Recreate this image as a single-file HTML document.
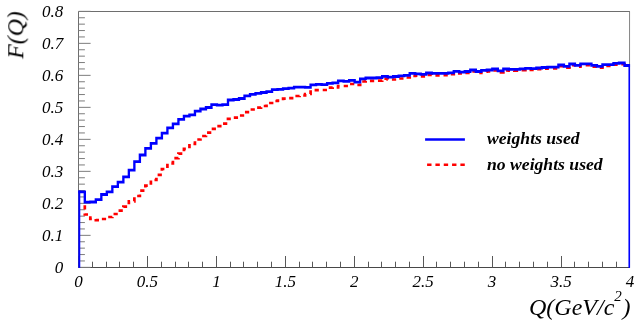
<!DOCTYPE html>
<html><head><meta charset="utf-8">
<style>
html,body{margin:0;padding:0;background:#fff;}
body{width:639px;height:327px;overflow:hidden;}
svg{display:block;}
text{font-family:"Liberation Serif",serif;font-style:italic;fill:#000;}
.lab{font-size:17px;}
.ttl{font-size:24px;}
.leg{font-size:17.65px;font-weight:bold;}
</style></head><body>
<svg width="639" height="327" viewBox="0 0 639 327">
<rect x="0" y="0" width="639" height="327" fill="#fff"/>
<defs><clipPath id="rc"><rect x="81.0" y="0" width="546.0" height="327"/></clipPath><clipPath id="bc"><rect x="78.1" y="0" width="552" height="327"/></clipPath></defs>
<path d="M78.5 267.5 V11.5 H630.0" fill="none" stroke="#6e6e6e" stroke-width="1"/>
<path d="M629.55 11.5 V267.5" fill="none" stroke="#858585" stroke-width="1"/>
<path d="M78.5 267.5 H630.0" fill="none" stroke="#484848" stroke-width="1"/>
<path d="M78.50 267.50 V256.00 M92.50 267.50 V261.70 M106.50 267.50 V261.70 M119.50 267.50 V261.70 M133.50 267.50 V261.70 M147.50 267.50 V256.00 M161.50 267.50 V261.70 M175.50 267.50 V261.70 M188.50 267.50 V261.70 M202.50 267.50 V261.70 M216.50 267.50 V256.00 M230.50 267.50 V261.70 M243.50 267.50 V261.70 M257.50 267.50 V261.70 M271.50 267.50 V261.70 M285.50 267.50 V256.00 M299.50 267.50 V261.70 M312.50 267.50 V261.70 M326.50 267.50 V261.70 M340.50 267.50 V261.70 M354.50 267.50 V256.00 M368.50 267.50 V261.70 M381.50 267.50 V261.70 M395.50 267.50 V261.70 M409.50 267.50 V261.70 M423.50 267.50 V256.00 M436.50 267.50 V261.70 M450.50 267.50 V261.70 M464.50 267.50 V261.70 M478.50 267.50 V261.70 M492.50 267.50 V256.00 M505.50 267.50 V261.70 M519.50 267.50 V261.70 M533.50 267.50 V261.70 M547.50 267.50 V261.70 M561.50 267.50 V256.00 M574.50 267.50 V261.70 M588.50 267.50 V261.70 M602.50 267.50 V261.70 M616.50 267.50 V261.70 M629.50 267.50 V256.00" fill="none" stroke="#585858" stroke-width="1"/>
<path d="M78.50 267.35 H90.60 M78.50 260.95 H84.90 M78.50 254.55 H84.90 M78.50 248.15 H84.90 M78.50 241.75 H84.90 M78.50 235.35 H90.60 M78.50 228.95 H84.90 M78.50 222.55 H84.90 M78.50 216.15 H84.90 M78.50 209.75 H84.90 M78.50 203.35 H90.60 M78.50 196.95 H84.90 M78.50 190.55 H84.90 M78.50 184.15 H84.90 M78.50 177.75 H84.90 M78.50 171.35 H90.60 M78.50 164.95 H84.90 M78.50 158.55 H84.90 M78.50 152.15 H84.90 M78.50 145.75 H84.90 M78.50 139.35 H90.60 M78.50 132.95 H84.90 M78.50 126.55 H84.90 M78.50 120.15 H84.90 M78.50 113.75 H84.90 M78.50 107.35 H90.60 M78.50 100.95 H84.90 M78.50 94.55 H84.90 M78.50 88.15 H84.90 M78.50 81.75 H84.90 M78.50 75.35 H90.60 M78.50 68.95 H84.90 M78.50 62.55 H84.90 M78.50 56.15 H84.90 M78.50 49.75 H84.90 M78.50 43.35 H90.60 M78.50 36.95 H84.90 M78.50 30.55 H84.90 M78.50 24.15 H84.90 M78.50 17.75 H84.90 M78.50 11.35 H90.60" fill="none" stroke="#7c7c7c" stroke-width="1"/>
<path d="M79.30 267.500 V205.000 H84.81 V214.500 H90.31 V219.000 H95.82 V220.200 H101.33 V219.000 H106.83 V217.000 H112.34 V214.000 H117.85 V210.700 H123.36 V206.700 H128.86 V201.300 H134.37 V196.000 H139.88 V190.700 H145.38 V185.700 H150.89 V180.000 H156.40 V174.800 H161.90 V169.000 H167.41 V163.500 H172.92 V158.200 H178.43 V153.600 H183.93 V148.800 H189.44 V144.000 H194.95 V139.500 H200.45 V136.000 H205.96 V132.600 H211.47 V128.900 H216.97 V126.200 H222.48 V123.600 H227.99 V118.800 H233.50 V117.700 H239.00 V115.500 H244.51 V112.200 H250.02 V109.500 H255.52 V107.700 H261.03 V106.000 H266.54 V103.000 H272.04 V101.000 H277.55 V100.600 H283.06 V98.700 H288.57 V98.100 H294.07 V96.000 H299.58 V95.500 H305.09 V94.000 H310.59 V90.200 H316.10 V90.200 H321.61 V90.000 H327.12 V87.700 H332.62 V87.300 H338.13 V86.000 H343.64 V86.000 H349.14 V84.000 H354.65 V85.000 H360.16 V81.500 H365.66 V80.900 H371.17 V80.900 H376.68 V80.600 H382.19 V78.700 H387.69 V79.500 H393.20 V79.500 H398.71 V78.500 H404.21 V77.500 H409.72 V75.900 H415.23 V75.700 H420.73 V76.300 H426.24 V74.800 H431.75 V75.400 H437.25 V75.400 H442.76 V75.200 H448.27 V74.150 H453.78 V73.100 H459.28 V73.500 H464.79 V72.900 H470.30 V71.500 H475.80 V72.900 H481.31 V71.700 H486.82 V71.300 H492.32 V70.300 H497.83 V72.300 H503.34 V70.300 H508.85 V70.600 H514.35 V70.700 H519.86 V70.100 H525.37 V69.700 H530.87 V69.850 H536.38 V69.250 H541.89 V68.750 H547.39 V68.450 H552.90 V68.450 H558.41 V66.250 H563.92 V67.650 H569.42 V65.250 H574.93 V66.650 H580.44 V65.050 H585.94 V65.050 H591.45 V66.550 H596.96 V67.650 H602.46 V65.900 H607.97 V65.900 H613.48 V64.650 H618.99 V64.250 H624.49 V66.750 H630.00 V267.500" fill="none" stroke="#ff0000" stroke-width="2.7" stroke-dasharray="4.25 4.08" clip-path="url(#rc)" stroke-dashoffset="-1.5" stroke-linejoin="miter"/>
<path transform="scale(1,1.2)" d="M78.30 159.917 V159.917 H84.81 V168.500 H90.31 V168.333 H95.82 V166.417 H101.33 V162.083 H106.83 V159.917 H112.34 V155.583 H117.85 V151.750 H123.36 V147.417 H128.86 V141.833 H134.37 V134.750 H139.88 V129.167 H145.38 V123.667 H150.89 V119.500 H156.40 V115.083 H161.90 V111.000 H167.41 V106.500 H172.92 V103.167 H178.43 V99.500 H183.93 V96.750 H189.44 V95.750 H194.95 V92.667 H200.45 V90.833 H205.96 V89.583 H211.47 V87.167 H216.97 V87.583 H222.48 V87.250 H227.99 V83.333 H233.50 V82.917 H239.00 V82.083 H244.51 V79.917 H250.02 V78.583 H255.52 V77.833 H261.03 V77.083 H266.54 V76.417 H272.04 V74.667 H277.55 V74.417 H283.06 V73.917 H288.57 V73.500 H294.07 V72.583 H299.58 V72.583 H305.09 V72.750 H310.59 V70.750 H316.10 V70.250 H321.61 V70.500 H327.12 V69.500 H332.62 V69.000 H338.13 V67.417 H343.64 V67.750 H349.14 V66.917 H354.65 V68.417 H360.16 V65.667 H365.66 V65.000 H371.17 V65.000 H376.68 V64.750 H382.19 V63.667 H387.69 V64.250 H393.20 V63.750 H398.71 V63.250 H404.21 V62.750 H409.72 V61.167 H415.23 V61.500 H420.73 V61.917 H426.24 V60.833 H431.75 V61.167 H437.25 V61.167 H442.76 V61.167 H448.27 V60.667 H453.78 V59.500 H459.28 V60.083 H464.79 V59.583 H470.30 V58.333 H475.80 V59.583 H481.31 V58.583 H486.82 V58.333 H492.32 V57.500 H497.83 V59.083 H503.34 V57.500 H508.85 V57.750 H514.35 V57.750 H519.86 V57.333 H525.37 V57.000 H530.87 V57.167 H536.38 V56.667 H541.89 V56.250 H547.39 V56.000 H552.90 V56.000 H558.41 V54.167 H563.92 V55.333 H569.42 V53.333 H574.93 V54.500 H580.44 V53.167 H585.94 V53.167 H591.45 V54.417 H596.96 V55.333 H602.46 V53.875 H607.97 V53.875 H613.48 V52.833 H618.99 V52.500 H624.49 V54.583 H630.30" fill="none" stroke="#0000ff" stroke-width="2.35" stroke-linejoin="miter" clip-path="url(#bc)"/>
<rect x="78.3" y="190.49" width="1.95" height="77.41" fill="#0000ff"/>
<rect x="628.45" y="64.09" width="1.6" height="203.81" fill="#0000ff"/>
<g style="opacity:0.999">
<text x="78.50" y="287.2" text-anchor="middle" class="lab">0</text>
<text x="147.44" y="287.2" text-anchor="middle" class="lab">0.5</text>
<text x="216.38" y="287.2" text-anchor="middle" class="lab">1</text>
<text x="285.31" y="287.2" text-anchor="middle" class="lab">1.5</text>
<text x="354.25" y="287.2" text-anchor="middle" class="lab">2</text>
<text x="423.19" y="287.2" text-anchor="middle" class="lab">2.5</text>
<text x="492.12" y="287.2" text-anchor="middle" class="lab">3</text>
<text x="561.06" y="287.2" text-anchor="middle" class="lab">3.5</text>
<text x="630.00" y="287.2" text-anchor="middle" class="lab">4</text>
<text x="63.2" y="272.70" text-anchor="end" class="lab">0</text>
<text x="63.2" y="240.70" text-anchor="end" class="lab">0.1</text>
<text x="63.2" y="208.70" text-anchor="end" class="lab">0.2</text>
<text x="63.2" y="176.70" text-anchor="end" class="lab">0.3</text>
<text x="63.2" y="144.70" text-anchor="end" class="lab">0.4</text>
<text x="63.2" y="112.70" text-anchor="end" class="lab">0.5</text>
<text x="63.2" y="80.70" text-anchor="end" class="lab">0.6</text>
<text x="63.2" y="48.70" text-anchor="end" class="lab">0.7</text>
<text x="63.2" y="16.70" text-anchor="end" class="lab">0.8</text>

<text x="630.4" y="315.2" text-anchor="end" class="ttl">Q(GeV/c<tspan dy="-14.3" dx="0" font-size="15">2</tspan><tspan dy="14.3" dx="0.6">)</tspan></text>
<text transform="translate(23.3,11.3) rotate(-90)" text-anchor="end" class="ttl" style="font-size:23.8px">F(Q)</text>
<path d="M425.1 139.55 H464.9" stroke="#0000ff" stroke-width="2.6" fill="none"/>
<path d="M427.1 164.8 H464.9" stroke="#ff0000" stroke-width="2.6" stroke-dasharray="4.4 3.92" fill="none"/>
<text x="487" y="143.9" class="leg">weights used</text>
<text x="487" y="169.8" class="leg">no weights used</text>
</g>
</svg>
</body></html>
